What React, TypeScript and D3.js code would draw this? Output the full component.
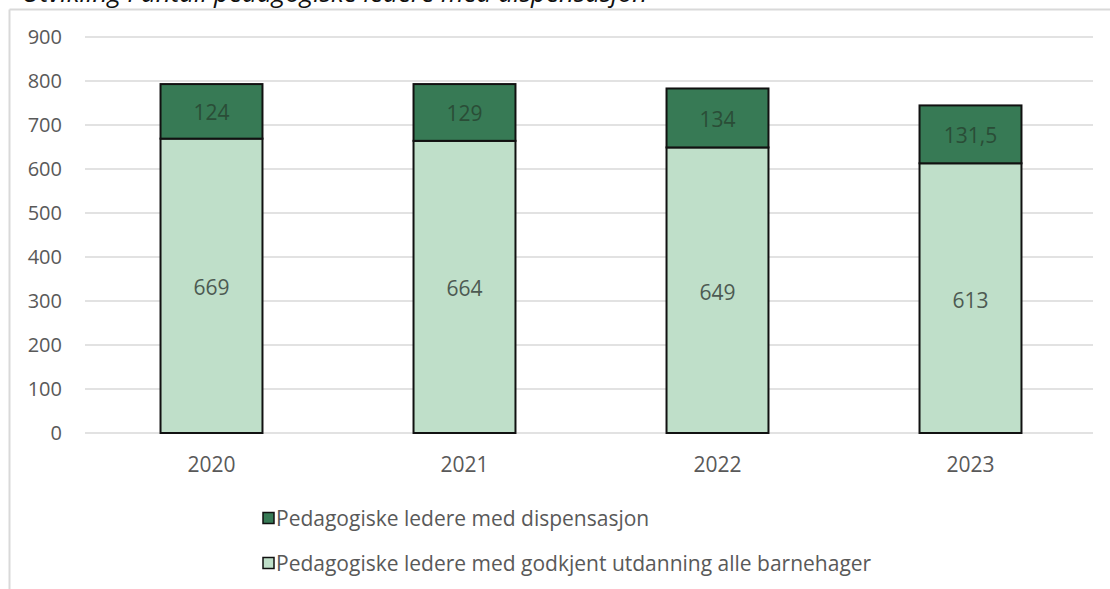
import React from "react";
import * as d3 from "d3";

const years = ["2020", "2021", "2022", "2023"];
const godkjent = [669, 664, 649, 613];
const dispensasjon = [124, 129, 134, 131.5];
const yTicks = [0, 100, 200, 300, 400, 500, 600, 700, 800, 900];
const seriesNames = [
  "Pedagogiske ledere med dispensasjon",
  "Pedagogiske ledere med godkjent utdanning alle barnehager",
];
const title = "Utvikling i antall pedagogiske ledere med dispensasjon";

const W = 1110;
const H = 589;
const FONT = "'Open Sans', Lato, sans-serif";

export default function App() {
  const x = d3.scaleBand<string>().domain(years).range([85, 1097]).paddingInner(0.597).paddingOuter(0.2985);
  const y = d3.scaleLinear().domain([0, 900]).range([433, 37]);
  const fmt = (v: number) => String(v).replace(".", ",");
  const darkFill = "#377a55";
  const lightFill = "#bfdfc9";
  const grid = "#d9d9d9";

  return (
    <svg width={W} height={H} style={{ position: "absolute", left: 0, top: 0, background: "#fff" }} fontFamily={FONT}>
      <rect x={0} y={0} width={W} height={H} fill="#fff" />
      <text x={22} y={2} fontSize={26} fontStyle="italic" fill="#111">{title}</text>
      <line x1={9.5} y1={9.5} x2={W} y2={9.5} stroke={grid} strokeWidth={2} />
      <line x1={9.5} y1={9.5} x2={9.5} y2={H} stroke={grid} strokeWidth={2} />
      {yTicks.map((t) => (
        <g key={t}>
          <line x1={85} x2={1093} y1={y(t)} y2={y(t)} stroke={grid} strokeWidth={1.5} />
          <text x={62} y={y(t)} dy="0.36em" textAnchor="end" fontSize={20} fill="#595959">{t}</text>
        </g>
      ))}
      {years.map((yr, i) => {
        const x0 = x(yr)!;
        const bw = x.bandwidth();
        const g = godkjent[i];
        const d = dispensasjon[i];
        return (
          <g key={yr}>
            <rect x={x0} y={y(g)} width={bw} height={y(0) - y(g)} fill={lightFill} stroke="#111" strokeWidth={2} />
            <rect x={x0} y={y(g + d)} width={bw} height={y(g) - y(g + d)} fill={darkFill} stroke="#111" strokeWidth={2} />
            <text x={x0 + bw / 2} y={(y(g) + y(0)) / 2 + 2} dy="0.36em" textAnchor="middle" fontSize={21} fill="#4d5a52">{fmt(g)}</text>
            <text x={x0 + bw / 2} y={(y(g) + y(g + d)) / 2 + 1} dy="0.36em" textAnchor="middle" fontSize={21} fill="#2a4d37">{fmt(d)}</text>
            <text x={x0 + bw / 2} y={464} dy="0.36em" textAnchor="middle" fontSize={21} fill="#595959">{yr}</text>
          </g>
        );
      })}
      {seriesNames.map((name, i) => (
        <g key={name} transform={`translate(263, ${518 + i * 45})`}>
          <rect x={0} y={-5.5} width={11} height={11} fill={i === 0 ? darkFill : lightFill} stroke="#111" strokeWidth={1.5} />
          <text x={13} y={0} dy="0.36em" fontSize={21} fill="#595959">{name}</text>
        </g>
      ))}
    </svg>
  );
}
